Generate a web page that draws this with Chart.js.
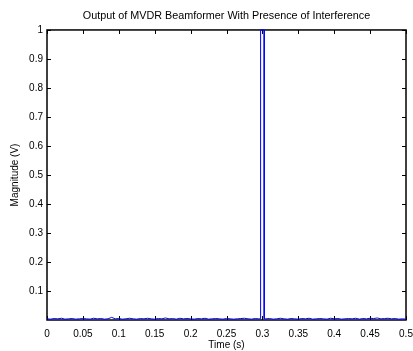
<!DOCTYPE html>
<html>
<head>
<meta charset="utf-8">
<script src="https://cdn.jsdelivr.net/npm/chart.js"></script>
<style>
html, body { margin: 0; padding: 0; background: #fff; }
</style>
</head>
<body>
<canvas id="myChart" width="413" height="351"></canvas>
<script>
// beamformer output (pulse around 0.3 s)
const time = [
	0, 0.005, 0.01, 0.015, 0.02, 0.025, 0.03, 0.035, 0.04, 0.045,
	0.05, 0.055, 0.06, 0.065, 0.07, 0.075, 0.08, 0.085, 0.09, 0.095,
	0.1, 0.105, 0.11, 0.115, 0.12, 0.125, 0.13, 0.135, 0.14, 0.145,
	0.15, 0.155, 0.16, 0.165, 0.17, 0.175, 0.18, 0.185, 0.19, 0.195,
	0.2, 0.205, 0.21, 0.215, 0.22, 0.225, 0.23, 0.235, 0.24, 0.245,
	0.25, 0.255, 0.26, 0.265, 0.27, 0.275, 0.28, 0.285, 0.29, 0.295,
	0.2975, 0.2975, 0.3025, 0.3025,
	0.305, 0.31, 0.315, 0.32, 0.325, 0.33, 0.335, 0.34, 0.345, 0.35,
	0.355, 0.36, 0.365, 0.37, 0.375, 0.38, 0.385, 0.39, 0.395, 0.4,
	0.405, 0.41, 0.415, 0.42, 0.425, 0.43, 0.435, 0.44, 0.445, 0.45,
	0.455, 0.46, 0.465, 0.47, 0.475, 0.48, 0.485, 0.49, 0.495, 0.5
];
const magnitude = [
	0.004, 0.003, 0.005, 0.004, 0.006, 0.003, 0.004, 0.005, 0.003, 0.004,
	0.005, 0.004, 0.003, 0.006, 0.004, 0.005, 0.003, 0.004, 0.009, 0.004,
	0.005, 0.003, 0.004, 0.006, 0.004, 0.003, 0.005, 0.004, 0.006, 0.004,
	0.003, 0.005, 0.004, 0.007, 0.004, 0.005, 0.003, 0.006, 0.004, 0.005,
	0.004, 0.003, 0.005, 0.004, 0.006, 0.003, 0.004, 0.005, 0.004, 0.003,
	0.005, 0.004, 0.003, 0.004, 0.005, 0.006, 0.004, 0.003, 0.005, 0.004,
	0.004, 1, 1, 0.004,
	0.004, 0.005, 0.003, 0.004, 0.006, 0.004, 0.003, 0.005, 0.004, 0.003,
	0.005, 0.004, 0.006, 0.003, 0.004, 0.005, 0.004, 0.003, 0.006, 0.004,
	0.005, 0.003, 0.004, 0.005, 0.004, 0.006, 0.003, 0.005, 0.004, 0.006,
	0.005, 0.007, 0.004, 0.005, 0.006, 0.004, 0.005, 0.003, 0.004, 0.003
];
const xTicks = [0, 0.05, 0.1, 0.15, 0.2, 0.25, 0.3, 0.35, 0.4, 0.45, 0.5];
const yTicks = [0.1, 0.2, 0.3, 0.4, 0.5, 0.6, 0.7, 0.8, 0.9, 1];

const points = time.map((t, i) => ({ x: t, y: magnitude[i] }));
const font = 'Liberation Sans, Arial, sans-serif';

// matlab style box with inward ticks
const boxPlugin = {
	id: 'box',
	beforeDatasetsDraw(chart) {
		const c = chart.ctx;
		const a = chart.chartArea;
		const sx = chart.scales.x;
		const sy = chart.scales.y;
		c.save();
		c.strokeStyle = '#000';
		c.lineWidth = 1;
		c.beginPath();
		xTicks.forEach(v => {
			const px = Math.round(sx.getPixelForValue(v)) + 0.5;
			c.moveTo(px, a.bottom); c.lineTo(px, a.bottom - 4);
			c.moveTo(px, a.top); c.lineTo(px, a.top + 4);
		});
		yTicks.forEach(v => {
			const py = Math.round(sy.getPixelForValue(v)) + 0.5;
			c.moveTo(a.left, py); c.lineTo(a.left + 4, py);
			c.moveTo(a.right, py); c.lineTo(a.right - 4, py);
		});
		c.stroke();
		c.lineWidth = 1.5;
		c.strokeRect(a.left, a.top, a.right - a.left, a.bottom - a.top);
		c.restore();
	}
};

function fmt(v) {
	return String(Math.round(v * 100) / 100);
}

new Chart(document.getElementById('myChart'), {
	type: 'line',
	data: {
		datasets: [{
			data: points,
			borderColor: '#0000ff',
			borderWidth: 1,
			pointRadius: 0,
			tension: 0,
			fill: false,
			clip: 2
		}]
	},
	plugins: [boxPlugin],
	options: {
		responsive: false,
		animation: false,
		layout: { padding: { left: 0, right: 7, top: 0, bottom: 0 } },
		plugins: {
			legend: { display: false },
			tooltip: { enabled: false },
			title: {
				display: true,
				fullSize: false,
				text: 'Output of MVDR Beamformer With Presence of Interference',
				color: '#000',
				font: { family: font, size: 10.8, weight: 'normal' },
				padding: { top: 10, bottom: 7 }
			}
		},
		scales: {
			x: {
				type: 'linear',
				min: 0,
				max: 0.5,
				afterFit: s => { s.height = 31; s.paddingLeft = 0; s.paddingRight = 0; },
				afterBuildTicks: s => { s.ticks = xTicks.map(v => ({ value: v })); },
				grid: { display: false, drawTicks: false },
				border: { display: false },
				ticks: {
					color: '#000',
					font: { family: font, size: 10 },
					padding: 8,
					autoSkip: false,
					maxRotation: 0,
					callback: v => fmt(v)
				},
				title: {
					display: true,
					text: 'Time (s)',
					color: '#000',
					font: { family: font, size: 10 },
					padding: { top: 0, bottom: 0 }
				}
			},
			y: {
				min: 0,
				max: 1,
				afterFit: s => { s.width = 47; s.paddingTop = 0; s.paddingBottom = 0; },
				afterBuildTicks: s => { s.ticks = yTicks.map(v => ({ value: v })); },
				grid: { display: false, drawTicks: false },
				border: { display: false },
				ticks: {
					color: '#000',
					font: { family: font, size: 10 },
					padding: 4,
					callback: v => fmt(v)
				},
				title: {
					display: true,
					text: 'Magnitude (V)',
					color: '#000',
					font: { family: font, size: 10 },
					padding: { top: 9, bottom: 0 }
				}
			}
		}
	}
});
</script>
</body>
</html>
